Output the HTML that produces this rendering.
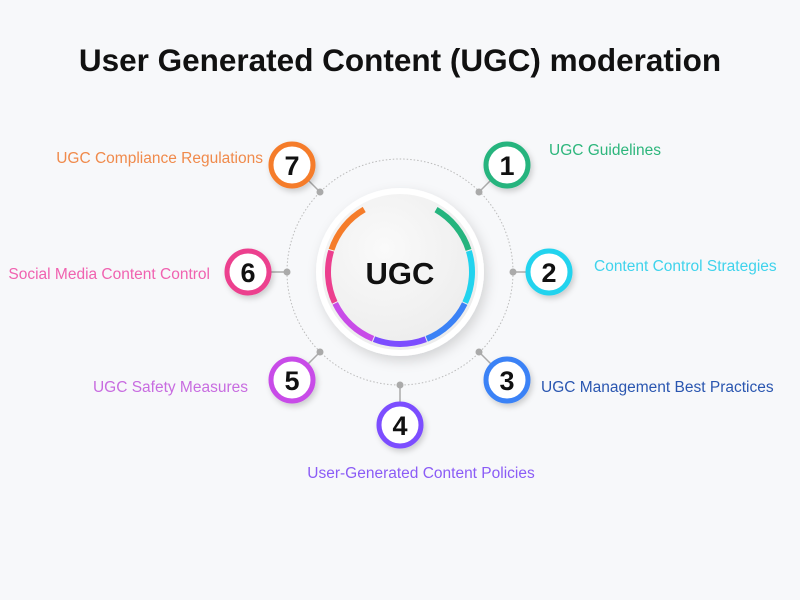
<!DOCTYPE html>
<html><head><meta charset="utf-8"><style>
body{margin:0;background:#f7f8fa;}
svg{display:block;font-family:"Liberation Sans",Arial,sans-serif;}
</style></head><body>
<svg width="800" height="600" viewBox="0 0 800 600">
<defs>
<filter id="sh" x="-50%" y="-50%" width="200%" height="200%"><feDropShadow dx="2" dy="3" stdDeviation="3" flood-color="#000" flood-opacity="0.18"/></filter>
<filter id="sh2" x="-50%" y="-50%" width="200%" height="200%"><feDropShadow dx="3" dy="5" stdDeviation="6" flood-color="#000" flood-opacity="0.15"/></filter>
<radialGradient id="g" cx="40%" cy="35%" r="70%"><stop offset="0" stop-color="#fafafa"/><stop offset="1" stop-color="#ececec"/></radialGradient>
</defs>
<rect width="800" height="600" fill="#f7f8fa"/>
<text x="400" y="71" text-anchor="middle" font-size="31.5" font-weight="bold" fill="#111">User Generated Content (UGC) moderation</text>
<circle cx="400" cy="272" r="113" fill="none" stroke="#bbb" stroke-width="1" stroke-dasharray="1.5 2"/>
<g stroke="#aaa" stroke-width="1.5">
<line x1="479" y1="192" x2="493" y2="178"/><line x1="513" y1="272" x2="527" y2="272"/>
<line x1="479" y1="352" x2="493" y2="366"/><line x1="400" y1="385" x2="400" y2="403"/>
<line x1="320" y1="352" x2="306" y2="366"/><line x1="287" y1="272" x2="270" y2="272"/>
<line x1="320" y1="192" x2="306" y2="178"/>
</g>
<g fill="#aaa">
<circle cx="479" cy="192" r="3.5"/><circle cx="513" cy="272" r="3.5"/><circle cx="479" cy="352" r="3.5"/><circle cx="400" cy="385" r="3.5"/><circle cx="320" cy="352" r="3.5"/><circle cx="287" cy="272" r="3.5"/><circle cx="320" cy="192" r="3.5"/>
</g>
<circle cx="400" cy="272" r="84" fill="#fff" filter="url(#sh2)"/>
<circle cx="400" cy="272" r="78" fill="url(#g)"/>
<g fill="none" stroke-width="6">
<circle cx="400" cy="272" r="72" stroke="#25b47e" stroke-dasharray="53 400" transform="rotate(-60 400 272)"/>
<circle cx="400" cy="272" r="72" stroke="#22d3ee" stroke-dasharray="53 400" transform="rotate(-17 400 272)"/>
<circle cx="400" cy="272" r="72" stroke="#3b82f6" stroke-dasharray="53 400" transform="rotate(26 400 272)"/>
<circle cx="400" cy="272" r="72" stroke="#7c4dff" stroke-dasharray="53 400" transform="rotate(69 400 272)"/>
<circle cx="400" cy="272" r="72" stroke="#c84be8" stroke-dasharray="53 400" transform="rotate(112 400 272)"/>
<circle cx="400" cy="272" r="72" stroke="#ec3f8e" stroke-dasharray="53 400" transform="rotate(155 400 272)"/>
<circle cx="400" cy="272" r="72" stroke="#f57c2a" stroke-dasharray="53 400" transform="rotate(198 400 272)"/>
</g>
<text x="400" y="284" text-anchor="middle" font-size="31" font-weight="bold" fill="#111">UGC</text>
<g stroke-width="5" fill="#fff" filter="url(#sh)">
<circle cx="507" cy="165" r="21" stroke="#25b47e"/>
<circle cx="549" cy="272" r="21" stroke="#22d3ee"/>
<circle cx="507" cy="380" r="21" stroke="#3b82f6"/>
<circle cx="400" cy="425" r="21" stroke="#7c4dff"/>
<circle cx="292" cy="380" r="21" stroke="#c84be8"/>
<circle cx="248" cy="272" r="21" stroke="#ec3f8e"/>
<circle cx="292" cy="165" r="21" stroke="#f57c2a"/>
</g>
<g font-size="27" font-weight="bold" fill="#111" text-anchor="middle">
<text x="507" y="175">1</text><text x="549" y="282">2</text><text x="507" y="390">3</text><text x="400" y="435">4</text><text x="292" y="390">5</text><text x="248" y="282">6</text><text x="292" y="175">7</text>
</g>
<g font-size="15.5">
<text x="549" y="155" fill="#2db67c">UGC Guidelines</text>
<text x="594" y="271" fill="#3fd3ec">Content Control Strategies</text>
<text x="541" y="392" fill="#2a56b0">UGC Management Best Practices</text>
<text x="421" y="478" fill="#8b5cf6" text-anchor="middle">User-Generated Content Policies</text>
<text x="248" y="392" fill="#c86ce0" text-anchor="end">UGC Safety Measures</text>
<text x="210" y="279" fill="#f062b0" text-anchor="end">Social Media Content Control</text>
<text x="263" y="163" fill="#f08a4b" text-anchor="end">UGC Compliance Regulations</text>
</g>
</svg>
</body></html>
